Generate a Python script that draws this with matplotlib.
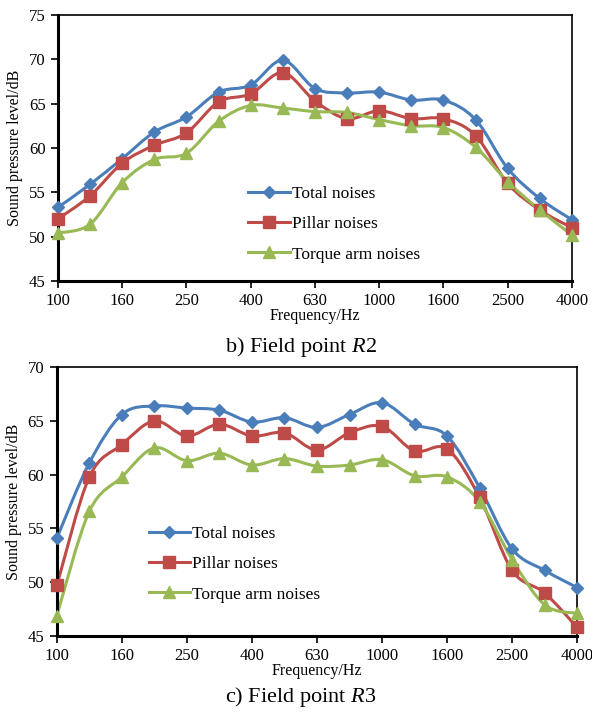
import matplotlib
matplotlib.use("Agg")
import matplotlib.pyplot as plt
from matplotlib.path import Path
from matplotlib.patches import PathPatch
from matplotlib.lines import Line2D

plt.rcParams["font.family"] = "Liberation Serif"
plt.rcParams["mathtext.fontset"] = "custom"
plt.rcParams["mathtext.rm"] = "Liberation Serif"
plt.rcParams["mathtext.it"] = "Liberation Serif:italic"

# 1/3-octave band centre frequencies (Hz)
freqs = ["100", "125", "160", "200", "250", "315", "400", "500", "630",
         "800", "1000", "1250", "1600", "2000", "2500", "3150", "4000"]

# b) Field point R2
r2_total = [53.3, 55.9, 58.8, 61.8, 63.5, 66.3, 67.1, 69.9, 66.7,
            66.2, 66.3, 65.4, 65.4, 63.2, 57.7, 54.3, 51.9]
r2_pillar = [52.0, 54.6, 58.3, 60.3, 61.7, 65.2, 66.1, 68.5, 65.3,
             63.3, 64.2, 63.3, 63.3, 61.4, 56.0, 53.0, 51.0]
r2_torque = [50.4, 51.4, 56.1, 58.7, 59.4, 63.0, 64.8, 64.5, 64.1,
             64.0, 63.2, 62.5, 62.3, 60.1, 56.2, 53.0, 50.2]

# c) Field point R3
r3_total = [54.1, 61.1, 65.6, 66.4, 66.2, 66.0, 64.9, 65.3, 64.4,
            65.6, 66.7, 64.7, 63.6, 58.8, 53.1, 51.1, 49.5]
r3_pillar = [49.7, 59.8, 62.8, 65.0, 63.6, 64.7, 63.6, 63.9, 62.3,
             63.9, 64.5, 62.2, 62.4, 57.9, 51.1, 49.0, 45.8]
r3_torque = [46.9, 56.6, 59.8, 62.5, 61.3, 62.0, 60.9, 61.5, 60.8,
             60.9, 61.4, 59.9, 59.8, 57.5, 52.1, 47.9, 47.1]

labels = ["Total noises", "Pillar noises", "Torque arm noises"]
colors = ["#4A7EBB", "#BE4B48", "#98B954"]
markers = ["D", "s", "^"]
msizes = [6, 8, 8]


def smooth_path(x, y):
    # Excel-like smoothed line: Catmull-Rom segments drawn as cubic Beziers
    verts = [(x[0], y[0])]
    codes = [Path.MOVETO]
    n = len(x)
    for i in range(n - 1):
        x0, y0 = (x[i - 1], y[i - 1]) if i > 0 else (x[i], y[i])
        x1, y1 = x[i], y[i]
        x2, y2 = x[i + 1], y[i + 1]
        x3, y3 = (x[i + 2], y[i + 2]) if i + 2 < n else (x2, y2)
        c1 = (x1 + (x2 - x0) / 6, y1 + (y2 - y0) / 6)
        c2 = (x2 - (x3 - x1) / 6, y2 - (y3 - y1) / 6)
        verts += [c1, c2, (x2, y2)]
        codes += [Path.CURVE4] * 3
    return Path(verts, codes)


def draw(ax, series, ylim, legend_pos):
    x = list(range(len(freqs)))
    handles = []
    for vals, lab, c, m, ms in zip(series, labels, colors, markers, msizes):
        ax.add_patch(PathPatch(smooth_path(x, vals), fc="none", ec=c, lw=2.2,
                               clip_on=False, zorder=2))
        ax.plot(x, vals, ls="none", marker=m, ms=ms, color=c, mec=c,
                clip_on=False, zorder=3)
        handles.append(Line2D([], [], color=c, lw=2.2, marker=m, ms=ms))
    ax.set_xlim(0, len(freqs) - 1)
    ax.set_ylim(*ylim)
    ax.set_yticks(range(ylim[0], ylim[1] + 1, 5))
    ax.set_xticks(x[::2])
    ax.set_xticklabels(freqs[::2])
    ax.tick_params(labelsize=12, direction="out", length=5, width=1.2, pad=4)
    for s in ["left", "bottom"]:
        ax.spines[s].set_linewidth(2.2)
    for s in ["top", "right"]:
        ax.spines[s].set_linewidth(1.2)
    ax.set_xlabel("Frequency/Hz", fontsize=11.5, labelpad=-1)
    ax.set_ylabel("Sound pressure level/dB", fontsize=11.5, labelpad=4)
    ax.legend(handles=handles, labels=labels, loc="upper left",
              bbox_to_anchor=legend_pos, frameon=False, fontsize=12.5,
              handlelength=2.4, handletextpad=0.1, labelspacing=0.8,
              borderaxespad=0)


fig = plt.figure(figsize=(5.92, 7.13), dpi=100)
ax1 = fig.add_axes([0.098, 0.606, 0.868, 0.373])
draw(ax1, [r2_total, r2_pillar, r2_torque], (45, 75), (0.357, 0.382))
ax2 = fig.add_axes([0.096, 0.108, 0.879, 0.377])
draw(ax2, [r3_total, r3_pillar, r3_torque], (45, 70), (0.163, 0.434))

fig.text(0.508, 0.514, "b) Field point $R$2", ha="center", va="center",
         fontsize=16)
fig.text(0.508, 0.022, "c) Field point $R$3", ha="center", va="center",
         fontsize=16)

fig.savefig("out.png", dpi=100)
